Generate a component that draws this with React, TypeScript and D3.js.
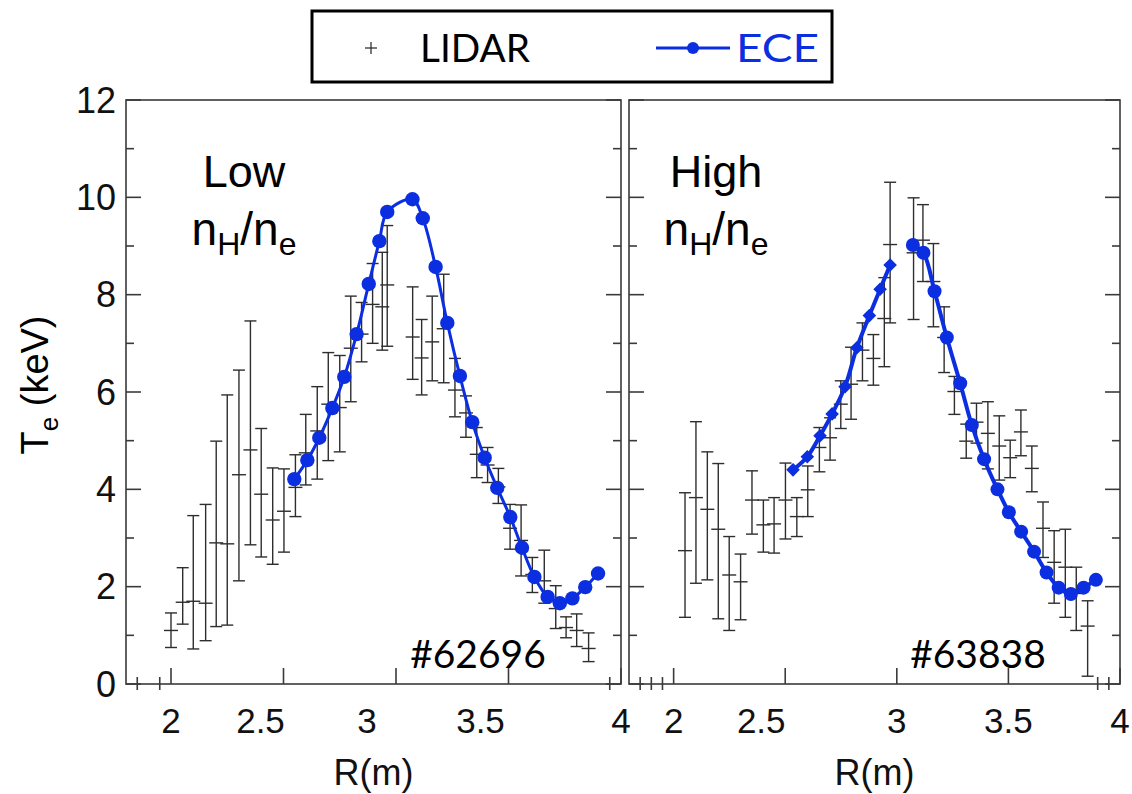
import React from "react";
import * as d3 from "d3";

// ---------- DATA ----------
const xTickValues = [2, 2.5, 3, 3.5, 4];
const xTickLabels = ["2", "2.5", "3", "3.5", "4"];
const yTickValues = [0, 2, 4, 6, 8, 10, 12];
const yMinorValues = [1, 3, 5, 7, 9, 11];
const leftMinorX = [1.85, 1.95, 3.95];
const rightMinorX = [1.85, 1.9, 1.95, 3.9, 3.95];

// Left panel (#62696) LIDAR: R, centre, low, high
const leftLidarR = [2.0, 2.052, 2.099, 2.154, 2.201, 2.25, 2.302, 2.353, 2.401, 2.452, 2.502, 2.553, 2.599, 2.65, 2.699, 2.75, 2.799, 2.847, 2.896, 2.939, 2.961, 3.074, 3.114, 3.161, 3.212, 3.262, 3.311, 3.359, 3.407, 3.455, 3.507, 3.556, 3.606, 3.659, 3.71, 3.756, 3.803, 3.856];
const leftLidarT = [1.1, 1.68, 1.7, 1.66, 2.9, 2.88, 4.3, 4.81, 3.9, 3.37, 3.55, 4.04, 4.75, 5.2, 5.75, 5.68, 6.9, 7.19, 7.8, 7.75, 8.2, 7.13, 6.7, 7.03, 7.3, 6.04, 5.57, 4.72, 4.5, 4.05, 3.2, 2.95, 2.25, 2.12, 1.55, 1.16, 1.1, 0.73];
const leftLidarLo = [0.75, 1.23, 0.72, 0.89, 1.18, 1.21, 2.12, 2.86, 2.61, 2.46, 2.71, 3.44, 4.09, 4.21, 4.59, 4.77, 5.8, 6.62, 7.0, 6.86, 6.94, 6.26, 5.94, 6.23, 6.19, 5.49, 5.07, 4.24, 4.14, 3.71, 2.77, 2.22, 1.88, 1.66, 1.14, 0.95, 0.77, 0.46];
const leftLidarHi = [1.46, 2.39, 3.46, 3.69, 4.99, 5.94, 6.45, 7.46, 5.25, 4.44, 4.42, 4.71, 5.54, 6.11, 6.81, 6.75, 7.97, 7.84, 8.64, 8.87, 9.42, 8.16, 7.49, 7.97, 8.42, 6.69, 5.92, 5.27, 4.86, 4.43, 3.69, 3.68, 2.6, 2.75, 2.02, 1.38, 1.44, 1.05];

// Left panel ECE
const leftEceR = [2.548, 2.606, 2.659, 2.717, 2.77, 2.825, 2.879, 2.926, 2.961, 3.073, 3.119, 3.176, 3.228, 3.284, 3.339, 3.394, 3.45, 3.508, 3.56, 3.615, 3.674, 3.728, 3.784, 3.841, 3.898];
const leftEceT = [4.21, 4.6, 5.06, 5.67, 6.31, 7.19, 8.22, 9.1, 9.7, 9.96, 9.57, 8.57, 7.42, 6.33, 5.38, 4.65, 4.03, 3.43, 2.8, 2.2, 1.79, 1.66, 1.76, 1.99, 2.27];

// Right panel (#63838) LIDAR
const rightLidarR = [2.051, 2.1, 2.151, 2.2, 2.249, 2.3, 2.351, 2.402, 2.45, 2.501, 2.552, 2.601, 2.653, 2.701, 2.749, 2.795, 2.846, 2.895, 2.944, 2.97, 3.075, 3.117, 3.164, 3.212, 3.258, 3.311, 3.357, 3.408, 3.459, 3.508, 3.556, 3.605, 3.655, 3.705, 3.755, 3.804, 3.855];
const rightLidarT = [2.74, 3.83, 3.59, 3.18, 2.24, 2.1, 3.78, 3.27, 3.29, 3.78, 3.44, 3.99, 4.86, 5.06, 5.75, 6.16, 6.86, 6.69, 7.51, 9.03, 8.86, 9.12, 8.27, 7.12, 6.01, 4.99, 5.38, 5.15, 4.89, 4.65, 5.18, 4.43, 3.2, 2.5, 2.4, 1.86, 1.19];
const rightLidarLo = [1.37, 2.07, 2.14, 1.34, 1.1, 1.32, 3.08, 2.71, 2.69, 2.98, 3.03, 3.44, 4.36, 4.6, 5.25, 5.44, 6.23, 6.14, 6.52, 7.42, 7.49, 8.27, 7.34, 6.4, 5.54, 4.64, 4.95, 4.42, 4.19, 4.24, 4.69, 3.95, 2.6, 1.66, 1.37, 1.1, 0.16];
const rightLidarHi = [3.93, 5.39, 4.77, 4.53, 3.03, 2.67, 4.38, 3.78, 3.83, 4.54, 3.83, 4.48, 5.27, 5.47, 6.23, 6.92, 7.42, 7.18, 8.35, 10.31, 9.99, 9.85, 9.05, 7.75, 6.32, 5.34, 5.77, 5.8, 5.51, 5.01, 5.63, 4.89, 3.74, 3.15, 3.18, 2.4, 1.71];

// Right panel ECE (diamonds, inboard side)
const rightEceDiamondR = [2.535, 2.599, 2.656, 2.71, 2.768, 2.821, 2.877, 2.925, 2.97];
const rightEceDiamondT = [4.4, 4.67, 5.1, 5.55, 6.11, 6.91, 7.57, 8.11, 8.61];
// Right panel ECE (circles, outboard side)
const rightEceCircleR = [3.072, 3.119, 3.169, 3.224, 3.284, 3.336, 3.391, 3.451, 3.502, 3.557, 3.615, 3.671, 3.725, 3.78, 3.837, 3.892];
const rightEceCircleT = [9.02, 8.86, 8.07, 7.12, 6.18, 5.32, 4.62, 4.0, 3.53, 3.13, 2.72, 2.29, 1.98, 1.85, 1.98, 2.14];

// ---------- LAYOUT / STYLE ----------
const W = 1132, H = 794;
const TOP = 100, BOTTOM = 684;
const BLUE = "#0b2ee0";
const AXIS = "#3a3a3a";
const BAR = "#2e2e2e";
const TICKFONT = "Liberation Sans, Arial, sans-serif";
const leftLabelDx = [0, -23, -29, -28, 0];
const rightLabelDx = [0, -24, 0, 0, 0];

const y = d3.scaleLinear().domain([0, 12]).range([BOTTOM, TOP]);

function Panel({ x0, x1, lidar, minorX, labelDx, showY, children }: any) {
  const x = d3.scaleLinear().domain([1.8, 4.0]).range([x0, x1]);
  const [R, T, Lo, Hi] = lidar;
  return (
    <g>
      <rect x={x0} y={TOP} width={x1 - x0} height={BOTTOM - TOP} fill="none" stroke={AXIS} strokeWidth={1.6} />
      {yTickValues.map((v) => (
        <g key={"yM" + v}>
          <line x1={x0} x2={x0 + 15} y1={y(v)} y2={y(v)} stroke={AXIS} strokeWidth={1.6} />
          <line x1={x1} x2={x1 - 15} y1={y(v)} y2={y(v)} stroke={AXIS} strokeWidth={1.6} />
        </g>
      ))}
      {yMinorValues.map((v) => (
        <g key={"ym" + v}>
          <line x1={x0} x2={x0 + 8} y1={y(v)} y2={y(v)} stroke={AXIS} strokeWidth={1.6} />
          <line x1={x1} x2={x1 - 8} y1={y(v)} y2={y(v)} stroke={AXIS} strokeWidth={1.6} />
        </g>
      ))}
      {xTickValues.map((v) => (
        <line key={"xt" + v} x1={x(v)} x2={x(v)} y1={BOTTOM} y2={BOTTOM - 16} stroke={AXIS} strokeWidth={1.6} />
      ))}
      {minorX.map((v: number) => (
        <line key={"xm" + v} x1={x(v)} x2={x(v)} y1={BOTTOM - 7} y2={BOTTOM + 6} stroke={AXIS} strokeWidth={1.6} />
      ))}
      {xTickValues.map((v, i) => (
        <text key={"xl" + v} x={x(v) + labelDx[i]} y={733} textAnchor="middle" fontFamily={TICKFONT} fontSize={35} fill="#111">
          {xTickLabels[i]}
        </text>
      ))}
      {showY &&
        yTickValues.map((v) => (
          <text key={"yl" + v} x={x0 - 10} y={y(v) + 12.5} textAnchor="end" fontFamily={TICKFONT} fontSize={36} fill="#111">
            {v}
          </text>
        ))}
      <text x={(x0 + x1) / 2} y={785} textAnchor="middle" fontFamily={TICKFONT} fontSize={36} fill="#111">R(m)</text>
      {R.map((r: number, i: number) => {
        const cx = x(r);
        return (
          <g key={"b" + i} stroke={BAR} strokeWidth={1.4}>
            <line x1={cx} x2={cx} y1={y(Lo[i])} y2={y(Hi[i])} />
            <line x1={cx - 6} x2={cx + 6} y1={y(Lo[i])} y2={y(Lo[i])} />
            <line x1={cx - 6} x2={cx + 6} y1={y(Hi[i])} y2={y(Hi[i])} />
            <line x1={cx - 7} x2={cx + 7} y1={y(T[i])} y2={y(T[i])} />
          </g>
        );
      })}
      {children(x)}
    </g>
  );
}

function Label({ cx, word }: { cx: number; word: string }) {
  return (
    <g fontFamily="Liberation Sans, Arial, sans-serif" fill="#000">
      <text x={cx} y={187} textAnchor="middle" fontSize={45}>{word}</text>
      <text x={cx} y={245} textAnchor="middle" fontSize={46}>
        n<tspan fontSize={32} dy={10}>H</tspan><tspan dy={-10}>/n</tspan><tspan fontSize={32} dy={10}>e</tspan>
      </text>
    </g>
  );
}

export default function App() {
  const line = (x: any) =>
    d3.line<[number, number]>().x((d) => x(d[0])).y((d) => y(d[1])).curve(d3.curveCatmullRom.alpha(0.5));
  const zip = (a: number[], b: number[]) => a.map((v, i) => [v, b[i]] as [number, number]);

  return (
    <svg width={W} height={H} style={{ position: "absolute", left: 0, top: 0, background: "#fff" }}>
      <rect x={0} y={0} width={W} height={H} fill="#fff" />
      {/* Legend */}
      <rect x={312} y={11} width={520} height={71} fill="#fff" stroke="#000" strokeWidth={3} />
      <g stroke="#222" strokeWidth={1.2}>
        <line x1={365} x2={377} y1={48} y2={48} />
        <line x1={371} x2={371} y1={42} y2={54} />
      </g>
      <text x={420} y={62} fontFamily="Lato" fontSize={38} fill="#000" textLength={110} lengthAdjust="spacingAndGlyphs">LIDAR</text>
      <line x1={656} x2={730} y1={48} y2={48} stroke={BLUE} strokeWidth={3} />
      <circle cx={693} cy={48} r={6} fill={BLUE} />
      <text x={736} y={62} fontFamily="Lato" fontSize={38} fill={BLUE} textLength={83} lengthAdjust="spacingAndGlyphs">ECE</text>

      {/* Y-axis title */}
      <text transform="translate(48,385) rotate(-90)" textAnchor="middle" fontFamily="Liberation Sans, Arial, sans-serif" fontSize={38} fill="#000">
        T<tspan fontSize={26} dy={10}>e</tspan><tspan dy={-10}> (keV)</tspan>
      </text>

      <Panel x0={126} x1={621} lidar={[leftLidarR, leftLidarT, leftLidarLo, leftLidarHi]} minorX={leftMinorX} labelDx={leftLabelDx} showY={true}>
        {(x: any) => (
          <g>
            <path d={line(x)(zip(leftEceR, leftEceT)) || ""} fill="none" stroke={BLUE} strokeWidth={3} />
            {leftEceR.map((r, i) => (
              <circle key={i} cx={x(r)} cy={y(leftEceT[i])} r={7.2} fill={BLUE} />
            ))}
          </g>
        )}
      </Panel>
      <Panel x0={629} x1={1120} lidar={[rightLidarR, rightLidarT, rightLidarLo, rightLidarHi]} minorX={rightMinorX} labelDx={rightLabelDx} showY={false}>
        {(x: any) => (
          <g>
            <path d={line(x)(zip(rightEceDiamondR, rightEceDiamondT)) || ""} fill="none" stroke={BLUE} strokeWidth={4} />
            {rightEceDiamondR.map((r, i) => (
              <rect key={"d" + i} x={x(r) - 4.8} y={y(rightEceDiamondT[i]) - 4.8} width={9.6} height={9.6} fill={BLUE}
                transform={`rotate(45 ${x(r)} ${y(rightEceDiamondT[i])})`} />
            ))}
            <path d={line(x)(zip(rightEceCircleR, rightEceCircleT)) || ""} fill="none" stroke={BLUE} strokeWidth={4} />
            {rightEceCircleR.map((r, i) => (
              <circle key={"c" + i} cx={x(r)} cy={y(rightEceCircleT[i])} r={7} fill={BLUE} />
            ))}
          </g>
        )}
      </Panel>

      <Label cx={244} word="Low" />
      <Label cx={716} word="High" />
      <text x={478} y={668} textAnchor="middle" fontFamily="Lato" fontSize={39} fill="#000">#62696</text>
      <text x={978} y={668} textAnchor="middle" fontFamily="Lato" fontSize={39} fill="#000">#63838</text>
    </svg>
  );
}
